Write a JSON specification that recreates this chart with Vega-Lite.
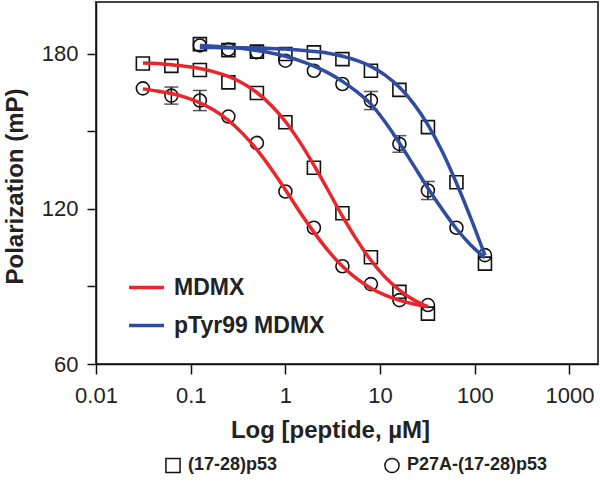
{
  "$schema": "https://vega.github.io/schema/vega-lite/v6.json",
  "width": 502,
  "height": 362,
  "autosize": {"type": "none"},
  "padding": {"left": 96, "top": 2, "right": 2, "bottom": 121},
  "background": "white",
  "config": {
    "font": "Liberation Sans",
    "view": {"stroke": "#444", "strokeWidth": 2},
    "axis": {
      "grid": false,
      "labelFlush": false,
      "labelFont": "Liberation Sans",
      "labelFontSize": 22,
      "labelColor": "#222",
      "tickColor": "#111",
      "tickWidth": 1.5,
      "domainColor": "#111",
      "domainWidth": 1.5,
      "titleFont": "Liberation Sans",
      "titleFontWeight": "bold",
      "titleFontSize": 24,
      "titleColor": "#222"
    },
    "legend": {
      "labelFont": "Liberation Sans",
      "labelFontWeight": "bold",
      "labelColor": "#222"
    }
  },
  "datasets": {
    "points": [
      {"protein": "MDMX", "peptide": "(17-28)p53", "conc": 0.03125, "mP": 176.2},
      {"protein": "MDMX", "peptide": "(17-28)p53", "conc": 0.0625, "mP": 175.3},
      {"protein": "MDMX", "peptide": "(17-28)p53", "conc": 0.125, "mP": 173.7},
      {"protein": "MDMX", "peptide": "(17-28)p53", "conc": 0.25, "mP": 168.9},
      {"protein": "MDMX", "peptide": "(17-28)p53", "conc": 0.5, "mP": 164.8},
      {"protein": "MDMX", "peptide": "(17-28)p53", "conc": 1, "mP": 153.5},
      {"protein": "MDMX", "peptide": "(17-28)p53", "conc": 2, "mP": 135.9},
      {"protein": "MDMX", "peptide": "(17-28)p53", "conc": 4, "mP": 118.3},
      {"protein": "MDMX", "peptide": "(17-28)p53", "conc": 8, "mP": 101.3},
      {"protein": "MDMX", "peptide": "(17-28)p53", "conc": 16, "mP": 87.9},
      {"protein": "MDMX", "peptide": "(17-28)p53", "conc": 32, "mP": 79.5},
      {"protein": "MDMX", "peptide": "P27A-(17-28)p53", "conc": 0.03125, "mP": 166.6},
      {"protein": "MDMX", "peptide": "P27A-(17-28)p53", "conc": 0.0625, "mP": 163.8},
      {"protein": "MDMX", "peptide": "P27A-(17-28)p53", "conc": 0.125, "mP": 161.9},
      {"protein": "MDMX", "peptide": "P27A-(17-28)p53", "conc": 0.25, "mP": 155.7},
      {"protein": "MDMX", "peptide": "P27A-(17-28)p53", "conc": 0.5, "mP": 145.5},
      {"protein": "MDMX", "peptide": "P27A-(17-28)p53", "conc": 1, "mP": 126.7},
      {"protein": "MDMX", "peptide": "P27A-(17-28)p53", "conc": 2, "mP": 112.7},
      {"protein": "MDMX", "peptide": "P27A-(17-28)p53", "conc": 4, "mP": 97.8},
      {"protein": "MDMX", "peptide": "P27A-(17-28)p53", "conc": 8, "mP": 90.9},
      {"protein": "MDMX", "peptide": "P27A-(17-28)p53", "conc": 16, "mP": 84.7},
      {"protein": "MDMX", "peptide": "P27A-(17-28)p53", "conc": 32, "mP": 82.8},
      {"protein": "pTyr99 MDMX", "peptide": "(17-28)p53", "conc": 0.125, "mP": 183.7},
      {"protein": "pTyr99 MDMX", "peptide": "(17-28)p53", "conc": 0.25, "mP": 181.4},
      {"protein": "pTyr99 MDMX", "peptide": "(17-28)p53", "conc": 0.5, "mP": 180.8},
      {"protein": "pTyr99 MDMX", "peptide": "(17-28)p53", "conc": 1, "mP": 179.9},
      {"protein": "pTyr99 MDMX", "peptide": "(17-28)p53", "conc": 2, "mP": 180.5},
      {"protein": "pTyr99 MDMX", "peptide": "(17-28)p53", "conc": 4, "mP": 177.9},
      {"protein": "pTyr99 MDMX", "peptide": "(17-28)p53", "conc": 8, "mP": 173.4},
      {"protein": "pTyr99 MDMX", "peptide": "(17-28)p53", "conc": 16, "mP": 166.0},
      {"protein": "pTyr99 MDMX", "peptide": "(17-28)p53", "conc": 32, "mP": 151.6},
      {"protein": "pTyr99 MDMX", "peptide": "(17-28)p53", "conc": 64, "mP": 130.3},
      {"protein": "pTyr99 MDMX", "peptide": "(17-28)p53", "conc": 128, "mP": 98.8},
      {"protein": "pTyr99 MDMX", "peptide": "P27A-(17-28)p53", "conc": 0.125, "mP": 183.2},
      {"protein": "pTyr99 MDMX", "peptide": "P27A-(17-28)p53", "conc": 0.25, "mP": 181.6},
      {"protein": "pTyr99 MDMX", "peptide": "P27A-(17-28)p53", "conc": 0.5, "mP": 180.6},
      {"protein": "pTyr99 MDMX", "peptide": "P27A-(17-28)p53", "conc": 1, "mP": 177.3},
      {"protein": "pTyr99 MDMX", "peptide": "P27A-(17-28)p53", "conc": 2, "mP": 173.4},
      {"protein": "pTyr99 MDMX", "peptide": "P27A-(17-28)p53", "conc": 4, "mP": 168.3},
      {"protein": "pTyr99 MDMX", "peptide": "P27A-(17-28)p53", "conc": 8, "mP": 161.9},
      {"protein": "pTyr99 MDMX", "peptide": "P27A-(17-28)p53", "conc": 16, "mP": 145.1},
      {"protein": "pTyr99 MDMX", "peptide": "P27A-(17-28)p53", "conc": 32, "mP": 127.1},
      {"protein": "pTyr99 MDMX", "peptide": "P27A-(17-28)p53", "conc": 64, "mP": 112.7},
      {"protein": "pTyr99 MDMX", "peptide": "P27A-(17-28)p53", "conc": 128, "mP": 102.1}
    ],
    "errors": [
      {"protein": "MDMX", "peptide": "P27A-(17-28)p53", "conc": 0.0625, "lo": 160.5, "hi": 167.1},
      {"protein": "MDMX", "peptide": "P27A-(17-28)p53", "conc": 0.125, "lo": 158.0, "hi": 165.8},
      {"protein": "pTyr99 MDMX", "peptide": "P27A-(17-28)p53", "conc": 8, "lo": 158.4, "hi": 165.4},
      {"protein": "pTyr99 MDMX", "peptide": "P27A-(17-28)p53", "conc": 16, "lo": 141.9, "hi": 148.3},
      {"protein": "pTyr99 MDMX", "peptide": "P27A-(17-28)p53", "conc": 32, "lo": 123.6, "hi": 130.6}
    ],
    "curves": [
      {"protein": "MDMX", "peptide": "(17-28)p53", "conc": 0.03125, "mP": 176.4},
      {"protein": "MDMX", "peptide": "(17-28)p53", "conc": 0.0442, "mP": 176.2},
      {"protein": "MDMX", "peptide": "(17-28)p53", "conc": 0.0625, "mP": 175.7},
      {"protein": "MDMX", "peptide": "(17-28)p53", "conc": 0.0884, "mP": 175.1},
      {"protein": "MDMX", "peptide": "(17-28)p53", "conc": 0.125, "mP": 174.3},
      {"protein": "MDMX", "peptide": "(17-28)p53", "conc": 0.177, "mP": 173.0},
      {"protein": "MDMX", "peptide": "(17-28)p53", "conc": 0.25, "mP": 171.2},
      {"protein": "MDMX", "peptide": "(17-28)p53", "conc": 0.354, "mP": 168.6},
      {"protein": "MDMX", "peptide": "(17-28)p53", "conc": 0.5, "mP": 165.0},
      {"protein": "MDMX", "peptide": "(17-28)p53", "conc": 0.707, "mP": 160.1},
      {"protein": "MDMX", "peptide": "(17-28)p53", "conc": 1, "mP": 153.8},
      {"protein": "MDMX", "peptide": "(17-28)p53", "conc": 1.41, "mP": 146.0},
      {"protein": "MDMX", "peptide": "(17-28)p53", "conc": 2, "mP": 136.9},
      {"protein": "MDMX", "peptide": "(17-28)p53", "conc": 2.83, "mP": 127.1},
      {"protein": "MDMX", "peptide": "(17-28)p53", "conc": 4, "mP": 117.2},
      {"protein": "MDMX", "peptide": "(17-28)p53", "conc": 5.66, "mP": 108.1},
      {"protein": "MDMX", "peptide": "(17-28)p53", "conc": 8, "mP": 100.1},
      {"protein": "MDMX", "peptide": "(17-28)p53", "conc": 11.3, "mP": 93.6},
      {"protein": "MDMX", "peptide": "(17-28)p53", "conc": 16, "mP": 88.6},
      {"protein": "MDMX", "peptide": "(17-28)p53", "conc": 22.6, "mP": 84.8},
      {"protein": "MDMX", "peptide": "(17-28)p53", "conc": 32, "mP": 82.1},
      {"protein": "MDMX", "peptide": "P27A-(17-28)p53", "conc": 0.03125, "mP": 166.4},
      {"protein": "MDMX", "peptide": "P27A-(17-28)p53", "conc": 0.0442, "mP": 165.6},
      {"protein": "MDMX", "peptide": "P27A-(17-28)p53", "conc": 0.0625, "mP": 164.6},
      {"protein": "MDMX", "peptide": "P27A-(17-28)p53", "conc": 0.0884, "mP": 163.1},
      {"protein": "MDMX", "peptide": "P27A-(17-28)p53", "conc": 0.125, "mP": 161.0},
      {"protein": "MDMX", "peptide": "P27A-(17-28)p53", "conc": 0.177, "mP": 158.1},
      {"protein": "MDMX", "peptide": "P27A-(17-28)p53", "conc": 0.25, "mP": 154.2},
      {"protein": "MDMX", "peptide": "P27A-(17-28)p53", "conc": 0.354, "mP": 149.1},
      {"protein": "MDMX", "peptide": "P27A-(17-28)p53", "conc": 0.5, "mP": 142.9},
      {"protein": "MDMX", "peptide": "P27A-(17-28)p53", "conc": 0.707, "mP": 135.5},
      {"protein": "MDMX", "peptide": "P27A-(17-28)p53", "conc": 1, "mP": 127.4},
      {"protein": "MDMX", "peptide": "P27A-(17-28)p53", "conc": 1.41, "mP": 119.0},
      {"protein": "MDMX", "peptide": "P27A-(17-28)p53", "conc": 2, "mP": 111.0},
      {"protein": "MDMX", "peptide": "P27A-(17-28)p53", "conc": 2.83, "mP": 103.8},
      {"protein": "MDMX", "peptide": "P27A-(17-28)p53", "conc": 4, "mP": 97.8},
      {"protein": "MDMX", "peptide": "P27A-(17-28)p53", "conc": 5.66, "mP": 93.0},
      {"protein": "MDMX", "peptide": "P27A-(17-28)p53", "conc": 8, "mP": 89.3},
      {"protein": "MDMX", "peptide": "P27A-(17-28)p53", "conc": 11.3, "mP": 86.6},
      {"protein": "MDMX", "peptide": "P27A-(17-28)p53", "conc": 16, "mP": 84.6},
      {"protein": "MDMX", "peptide": "P27A-(17-28)p53", "conc": 22.6, "mP": 83.2},
      {"protein": "MDMX", "peptide": "P27A-(17-28)p53", "conc": 32, "mP": 82.2},
      {"protein": "pTyr99 MDMX", "peptide": "(17-28)p53", "conc": 0.125, "mP": 182.4},
      {"protein": "pTyr99 MDMX", "peptide": "(17-28)p53", "conc": 0.177, "mP": 182.4},
      {"protein": "pTyr99 MDMX", "peptide": "(17-28)p53", "conc": 0.25, "mP": 182.3},
      {"protein": "pTyr99 MDMX", "peptide": "(17-28)p53", "conc": 0.354, "mP": 182.3},
      {"protein": "pTyr99 MDMX", "peptide": "(17-28)p53", "conc": 0.5, "mP": 182.2},
      {"protein": "pTyr99 MDMX", "peptide": "(17-28)p53", "conc": 0.707, "mP": 182.0},
      {"protein": "pTyr99 MDMX", "peptide": "(17-28)p53", "conc": 1, "mP": 181.8},
      {"protein": "pTyr99 MDMX", "peptide": "(17-28)p53", "conc": 1.41, "mP": 181.4},
      {"protein": "pTyr99 MDMX", "peptide": "(17-28)p53", "conc": 2, "mP": 180.9},
      {"protein": "pTyr99 MDMX", "peptide": "(17-28)p53", "conc": 2.83, "mP": 180.2},
      {"protein": "pTyr99 MDMX", "peptide": "(17-28)p53", "conc": 4, "mP": 179.0},
      {"protein": "pTyr99 MDMX", "peptide": "(17-28)p53", "conc": 5.66, "mP": 177.4},
      {"protein": "pTyr99 MDMX", "peptide": "(17-28)p53", "conc": 8, "mP": 175.1},
      {"protein": "pTyr99 MDMX", "peptide": "(17-28)p53", "conc": 11.3, "mP": 171.7},
      {"protein": "pTyr99 MDMX", "peptide": "(17-28)p53", "conc": 16, "mP": 167.0},
      {"protein": "pTyr99 MDMX", "peptide": "(17-28)p53", "conc": 22.6, "mP": 160.7},
      {"protein": "pTyr99 MDMX", "peptide": "(17-28)p53", "conc": 32, "mP": 152.5},
      {"protein": "pTyr99 MDMX", "peptide": "(17-28)p53", "conc": 45.3, "mP": 142.2},
      {"protein": "pTyr99 MDMX", "peptide": "(17-28)p53", "conc": 64, "mP": 130.0},
      {"protein": "pTyr99 MDMX", "peptide": "(17-28)p53", "conc": 90.5, "mP": 116.5},
      {"protein": "pTyr99 MDMX", "peptide": "(17-28)p53", "conc": 128, "mP": 102.0},
      {"protein": "pTyr99 MDMX", "peptide": "P27A-(17-28)p53", "conc": 0.125, "mP": 183.2},
      {"protein": "pTyr99 MDMX", "peptide": "P27A-(17-28)p53", "conc": 0.177, "mP": 182.9},
      {"protein": "pTyr99 MDMX", "peptide": "P27A-(17-28)p53", "conc": 0.25, "mP": 182.5},
      {"protein": "pTyr99 MDMX", "peptide": "P27A-(17-28)p53", "conc": 0.354, "mP": 182.0},
      {"protein": "pTyr99 MDMX", "peptide": "P27A-(17-28)p53", "conc": 0.5, "mP": 181.2},
      {"protein": "pTyr99 MDMX", "peptide": "P27A-(17-28)p53", "conc": 0.707, "mP": 180.3},
      {"protein": "pTyr99 MDMX", "peptide": "P27A-(17-28)p53", "conc": 1, "mP": 179.0},
      {"protein": "pTyr99 MDMX", "peptide": "P27A-(17-28)p53", "conc": 1.41, "mP": 177.3},
      {"protein": "pTyr99 MDMX", "peptide": "P27A-(17-28)p53", "conc": 2, "mP": 175.2},
      {"protein": "pTyr99 MDMX", "peptide": "P27A-(17-28)p53", "conc": 2.83, "mP": 172.6},
      {"protein": "pTyr99 MDMX", "peptide": "P27A-(17-28)p53", "conc": 4, "mP": 169.3},
      {"protein": "pTyr99 MDMX", "peptide": "P27A-(17-28)p53", "conc": 5.66, "mP": 165.3},
      {"protein": "pTyr99 MDMX", "peptide": "P27A-(17-28)p53", "conc": 8, "mP": 160.5},
      {"protein": "pTyr99 MDMX", "peptide": "P27A-(17-28)p53", "conc": 11.3, "mP": 153.6},
      {"protein": "pTyr99 MDMX", "peptide": "P27A-(17-28)p53", "conc": 16, "mP": 145.5},
      {"protein": "pTyr99 MDMX", "peptide": "P27A-(17-28)p53", "conc": 22.6, "mP": 136.8},
      {"protein": "pTyr99 MDMX", "peptide": "P27A-(17-28)p53", "conc": 32, "mP": 128.0},
      {"protein": "pTyr99 MDMX", "peptide": "P27A-(17-28)p53", "conc": 45.3, "mP": 119.8},
      {"protein": "pTyr99 MDMX", "peptide": "P27A-(17-28)p53", "conc": 64, "mP": 112.3},
      {"protein": "pTyr99 MDMX", "peptide": "P27A-(17-28)p53", "conc": 90.5, "mP": 106.0},
      {"protein": "pTyr99 MDMX", "peptide": "P27A-(17-28)p53", "conc": 128, "mP": 101.0}
    ]
  },
  "encoding": {
    "x": {
      "field": "conc",
      "type": "quantitative",
      "scale": {"type": "log", "domain": [0.01, 2000], "nice": false},
      "axis": {
        "values": [0.01, 0.1, 1, 10, 100, 1000],
        "format": "~g",
        "tickSize": 10,
        "labelPadding": 11,
        "title": "Log [peptide, µM]",
        "titleX": 234,
        "titleY": 73,
        "titleAlign": "center",
        "titleBaseline": "alphabetic"
      }
    }
  },
  "layer": [
    {
      "data": {"name": "errors"},
      "mark": {"type": "rule", "color": "#111", "strokeWidth": 1.5},
      "encoding": {
        "y": {"field": "lo", "type": "quantitative"},
        "y2": {"field": "hi"}
      }
    },
    {
      "data": {"name": "errors"},
      "mark": {"type": "tick", "orient": "horizontal", "color": "#111", "thickness": 1.5, "size": 14},
      "encoding": {
        "y": {"field": "lo", "type": "quantitative"}
      }
    },
    {
      "data": {"name": "errors"},
      "mark": {"type": "tick", "orient": "horizontal", "color": "#111", "thickness": 1.5, "size": 14},
      "encoding": {
        "y": {"field": "hi", "type": "quantitative"}
      }
    },
    {
      "data": {"name": "points"},
      "mark": {"type": "point", "filled": false, "color": "#111", "strokeWidth": 1.6, "size": 169, "opacity": 1},
      "encoding": {
        "y": {"field": "mP", "type": "quantitative"},
        "shape": {
          "field": "peptide",
          "type": "nominal",
          "scale": {"domain": ["(17-28)p53", "P27A-(17-28)p53"], "range": ["square", "circle"]},
          "legend": {
            "orient": "none",
            "legendX": 68,
            "legendY": 454,
            "direction": "horizontal",
            "title": null,
            "labelFontSize": 18,
            "symbolSize": 200,
            "symbolStrokeWidth": 1.5,
            "symbolStrokeColor": "#111",
            "symbolFillColor": "transparent",
            "columnPadding": 103,
            "labelOffset": 6
          }
        }
      }
    },
    {
      "data": {"name": "curves"},
      "mark": {"type": "line", "strokeWidth": 3.5, "interpolate": "monotone"},
      "encoding": {
        "y": {
          "field": "mP",
          "type": "quantitative",
          "scale": {"domain": [60, 200], "nice": false, "zero": false},
          "axis": {
            "values": [60, 90, 120, 150, 180],
            "labelExpr": "datum.value % 60 === 0 ? datum.label : ''",
            "tickSize": 9,
            "labelPadding": 9,
            "title": "Polarization (mP)",
            "titleAngle": -90,
            "titleX": -81,
            "titleY": 184,
            "titleAlign": "center",
            "titleBaseline": "middle"
          }
        },
        "color": {
          "field": "protein",
          "type": "nominal",
          "scale": {"domain": ["MDMX", "pTyr99 MDMX"], "range": ["#E8262B", "#2F4C9E"]},
          "legend": {
            "orient": "none",
            "legendX": 31,
            "legendY": 266,
            "title": null,
            "labelFontSize": 23,
            "symbolType": "stroke",
            "symbolSize": 1225,
            "symbolStrokeWidth": 3.5,
            "rowPadding": 6,
            "labelOffset": 8
          }
        },
        "detail": {"field": "peptide"}
      }
    }
  ]
}
